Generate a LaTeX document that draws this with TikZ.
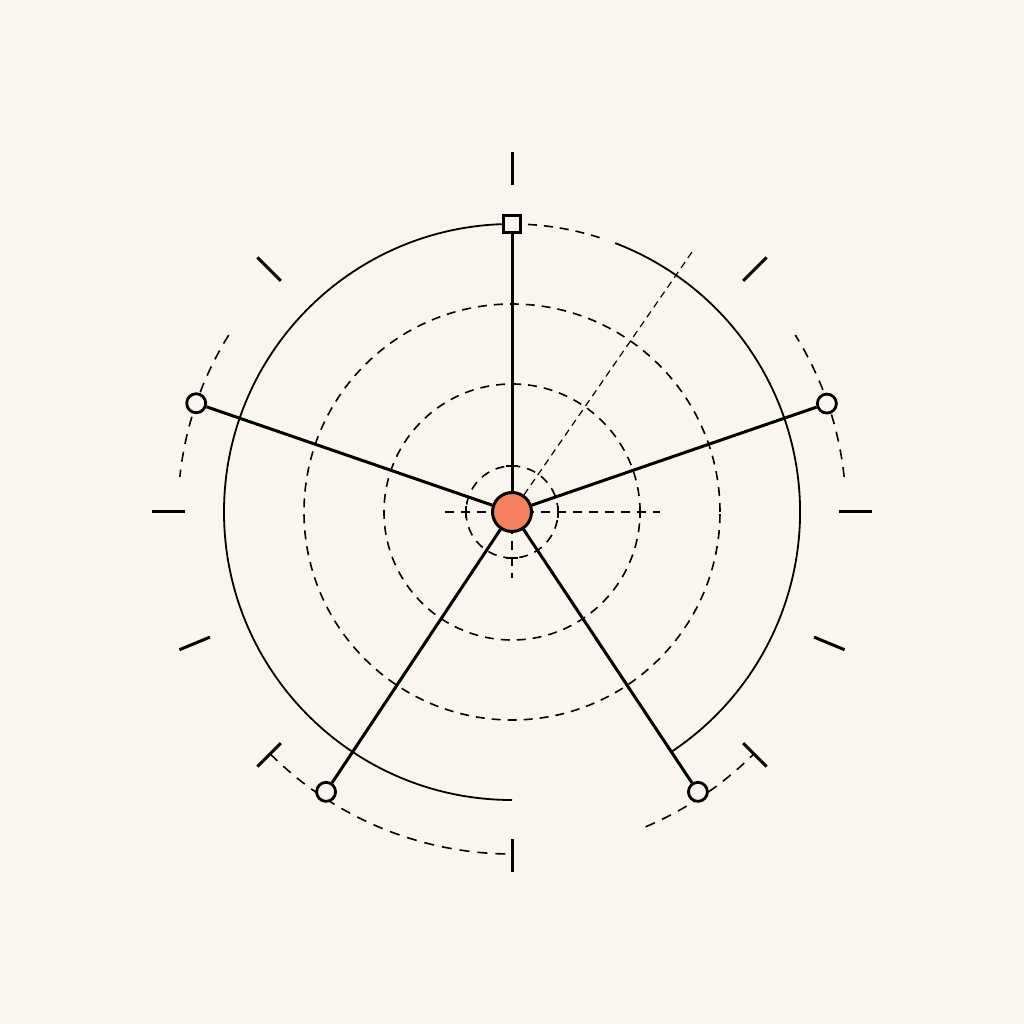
\documentclass[tikz,border=0pt]{standalone}
\usetikzlibrary{calc}
\definecolor{paper}{HTML}{F8F6EF}
\definecolor{hubfill}{HTML}{F7805E}
\tikzset{
  spoke/.style={line width=3pt},
  ring/.style={line width=1.8pt},
  guide/.style={line width=1.6pt, dash pattern=on 9pt off 7pt},
  outerguide/.style={line width=1.6pt, dash pattern=on 10pt off 8pt},
  rimtick/.style={line width=3pt},
  endpt/.style={circle, draw, line width=2.8pt, fill=paper, inner sep=0pt, minimum size=19pt},
  endsq/.style={rectangle, draw, line width=2.6pt, fill=paper, inner sep=0pt, minimum size=17pt},
  hubnode/.style={circle, draw, line width=3pt, fill=hubfill, inner sep=0pt, minimum size=39pt},
}
\begin{document}
\begin{tikzpicture}[x=1pt,y=1pt]
  \fill[paper] (-512,-512) rectangle (512,512);
  % dashed rings
  \draw[guide] (0,0) circle (208);
  \draw[guide] (0,0) circle (128);
  \draw[guide] (0,0) circle (46);
  % main ring, broken
  \draw[ring] (270:288) arc[start angle=270, end angle=90, radius=288];
  \draw[guide] (90:288) arc[start angle=90, end angle=71, radius=288];
  \draw[ring] (69:288) arc[start angle=69, end angle=-56.5, radius=288];
  % crosshair
  \draw[guide] (-67,0) -- (148,0);
  \draw[guide] (0,67) -- (0,-66);
  \foreach \x in {-46,46,128}
    \draw[line width=1.5pt] (\x,-6) -- (\x,6);
  \foreach \y in {-46,46}
    \draw[line width=1.5pt] (-6,\y) -- (6,\y);
  % outer dashed arcs
  \draw[outerguide] (148:334) arc[start angle=148, end angle=174, radius=334];
  \draw[outerguide] (6:334) arc[start angle=6, end angle=32, radius=334];
  \draw[outerguide] (-135:342) arc[start angle=-135, end angle=-90, radius=342];
  \draw[outerguide] (-67:342) arc[start angle=-67, end angle=-45, radius=342];
  % rim ticks
  \foreach \a in {90,45,135,0,180,-22.5,202.5,-45,-135,-90}
    \draw[rimtick] (\a:327) -- (\a:360);
  % nodes
  \node[hubnode] (hub) at (0,0) {};
  \node[endsq] (top) at (90:288) {};
  \node[endpt] (left) at (161:334) {};
  \node[endpt] (right) at (19:333) {};
  \node[endpt] (lowleft) at (-123.6:336) {};
  \node[endpt] (lowright) at (-56.4:336) {};
  \coordinate (diagend) at (55.3:318);
  % spokes
  \draw[line width=1.2pt, dash pattern=on 7pt off 5pt] (hub.55) -- (diagend);
  \foreach \n in {top,left,right,lowleft,lowright}
    \draw[spoke] (hub) -- (\n);
\end{tikzpicture}
\end{document}
